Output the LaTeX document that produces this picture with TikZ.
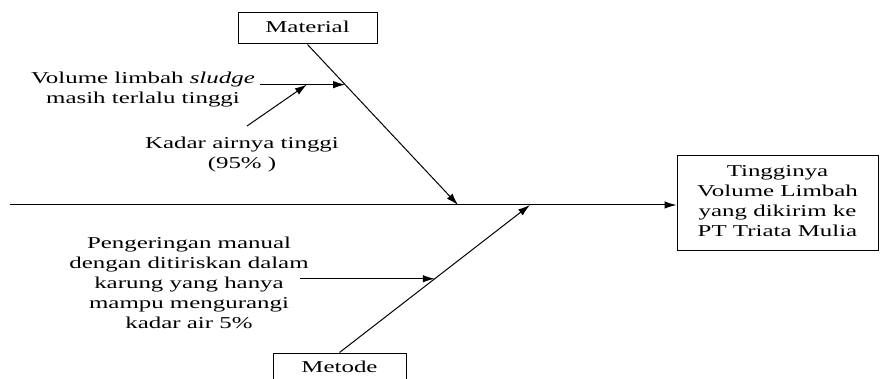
\documentclass[tikz,border=0pt]{standalone}
\usepackage{fontspec}
\setmainfont{Liberation Serif}
\usetikzlibrary{arrows.meta,calc}
\newcommand{\renggang}[1]{\scalebox{1.5}[1]{\begin{tabular}{@{}c@{}}#1\end{tabular}}}

\begin{document}
\begin{tikzpicture}[x=1pt,y=1pt,line width=1pt,
  every node/.style={font=\fontsize{16.6}{20}\selectfont,align=center,inner sep=0pt},
  kotak/.style={draw,minimum width=139pt,minimum height=31pt},
  panah/.style={-{Latex[length=12pt,width=7.5pt]}}]
\useasboundingbox (0,0) rectangle (882,-379);
\clip (0,0) rectangle (882,-379);
\node [kotak] (material) at (307.5,-28.5) {\renggang{Material}};
\node [kotak,minimum width=133pt] (metode) at (339.5,-368.5) {\renggang{Metode}};
\node [draw,minimum width=201pt,minimum height=94pt] (akibat) at (777.5,-203) {\renggang{Tingginya\\Volume Limbah\\yang dikirim ke\\PT Triata Mulia}};
\node (t1) at (143,-90) {\renggang{Volume limbah \textit{sludge}\\masih terlalu tinggi}};
\node (t2) at (242,-155) {\renggang{Kadar airnya tinggi\\(95\% )}};
\node (t3) at (189,-284) {\renggang{Pengeringan manual\\dengan ditiriskan dalam\\karung yang hanya\\mampu mengurangi\\kadar air 5\%}};
\coordinate (ekor) at (10,-205);
\coordinate (m1) at (458,-205);
\coordinate (m2) at (530,-205);
\draw [panah] (ekor) -- (ekor -| akibat.west);
\draw [panah] (material.south) -- (m1);
\draw [panah] (metode.north) -- (m2);
\coordinate (s1) at ($(material.south)!0.25!(m1)$);
\coordinate (a1) at (s1 -| 260,0);
\draw [panah] (a1) -- (s1);
\coordinate (s2) at ($(a1)!0.55!(s1)$);
\coordinate (a2) at (247,-126);
\draw [panah] (a2) -- (s2);
\coordinate (s3) at ($(metode.north)!0.5!(m2)$);
\coordinate (a3) at (s3 -| 300,0);
\draw [panah] (a3) -- (s3);
\end{tikzpicture}
\end{document}
